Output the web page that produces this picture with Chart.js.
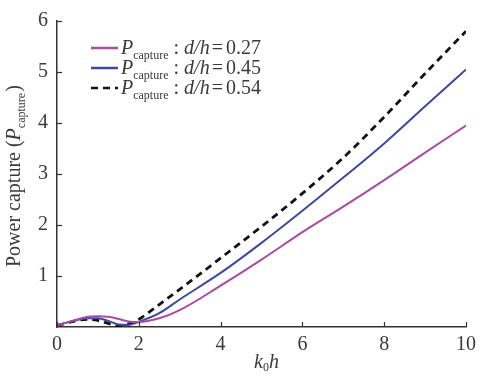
<!DOCTYPE html>
<html>
<head>
<meta charset="utf-8">
<script src="https://cdn.jsdelivr.net/npm/chart.js@4/dist/chart.umd.min.js"></script>
<style>
  html, body { margin: 0; padding: 0; background: #fff; }
  #wrap { width: 482px; height: 381px; }
</style>
</head>
<body>
<div id="wrap"><canvas id="powerChart" width="482" height="381"></canvas></div>
<script>
// k0h values
const kh = [0, 0.25, 0.5, 0.75, 1, 1.25, 1.5, 1.75, 2, 2.5, 3, 4, 5, 6, 7, 8, 9, 10];

// Power capture for each d/h
const p027 = [0.03, 0.09, 0.15, 0.20, 0.21, 0.20, 0.16, 0.11, 0.10, 0.17, 0.33, 0.81, 1.32, 1.86, 2.36, 2.88, 3.42, 3.95];
const p045 = [0.03, 0.09, 0.14, 0.17, 0.17, 0.12, 0.05, 0.04, 0.10, 0.27, 0.54, 1.06, 1.65, 2.28, 2.93, 3.60, 4.33, 5.05];
const p054 = [0.03, 0.08, 0.13, 0.15, 0.13, 0.07, 0.02, 0.06, 0.15, 0.44, 0.74, 1.35, 1.97, 2.62, 3.32, 4.12, 4.97, 5.80];

const ratios = ["0.27", "0.45", "0.54"];
const xTicks = [0, 2, 4, 6, 8, 10];
const yTicks = [1, 2, 3, 4, 5, 6];

const FONT = "'Liberation Serif', 'Times New Roman', Times, serif";
const TEXT = "#3a3a3a";
const colMag = "#ab4aa3";
const colBlue = "#3c48a3";
const colBlack = "#111111";

function toPoints(ys) {
    return kh.map((x, i) => ({ x: x, y: ys[i] }));
}

// inward ticks, axis titles and the legend (subscripts need manual drawing)
const decorPlugin = {
    id: "decor",
    afterDraw(chart) {
        const ctx = chart.ctx;
        const xs = chart.scales.x;
        const ys = chart.scales.y;
        const area = chart.chartArea;

        ctx.save();
        ctx.strokeStyle = "#333";
        ctx.lineWidth = 1.2;
        xTicks.forEach(v => {
            const px = Math.round(xs.getPixelForValue(v)) + 0.5;
            ctx.beginPath();
            ctx.moveTo(px, area.bottom);
            ctx.lineTo(px, area.bottom - 5);
            ctx.stroke();
        });
        yTicks.forEach(v => {
            const py = Math.round(ys.getPixelForValue(v)) + 0.5;
            ctx.beginPath();
            ctx.moveTo(area.left, py);
            ctx.lineTo(area.left + 5, py);
            ctx.stroke();
        });

        ctx.fillStyle = TEXT;
        ctx.textBaseline = "alphabetic";

        // x title: k0h
        let x = 254, y = 368;
        ctx.font = "italic 20px " + FONT;
        ctx.fillText("k", x, y);
        x += ctx.measureText("k").width;
        ctx.font = "12px " + FONT;
        ctx.fillText("0", x, y + 3);
        x += ctx.measureText("0").width;
        ctx.font = "italic 20px " + FONT;
        ctx.fillText("h", x, y);

        // y title, rotated
        ctx.save();
        ctx.translate(20, 267);
        ctx.rotate(-Math.PI / 2);
        let t = 0;
        ctx.font = "20px " + FONT;
        ctx.fillText("Power capture (", t, 0);
        t += ctx.measureText("Power capture (").width;
        ctx.font = "italic 20px " + FONT;
        ctx.fillText("P", t, 0);
        t += ctx.measureText("P").width;
        ctx.font = "12px " + FONT;
        ctx.fillText("capture", t, 5);
        t += ctx.measureText("capture").width;
        ctx.font = "20px " + FONT;
        ctx.fillText(")", t + 1, 0);
        ctx.restore();

        // legend
        const rows = [48, 68, 88];
        chart.data.datasets.forEach((ds, i) => {
            const ly = rows[i];
            ctx.save();
            ctx.strokeStyle = ds.borderColor;
            ctx.lineWidth = 2.5;
            ctx.setLineDash(ds.borderDash || []);
            ctx.beginPath();
            ctx.moveTo(91, ly);
            ctx.lineTo(118, ly);
            ctx.stroke();
            ctx.restore();

            let lx = 121;
            const base = ly + 6;
            ctx.font = "italic 20px " + FONT;
            ctx.fillText("P", lx, base);
            lx += ctx.measureText("P").width;
            ctx.font = "12px " + FONT;
            ctx.fillText("capture", lx, base + 5);
            lx += ctx.measureText("capture").width + 5;
            ctx.font = "20px " + FONT;
            ctx.fillText(":", lx, base);
            lx += ctx.measureText(":").width + 5;
            ctx.font = "italic 20px " + FONT;
            ctx.fillText("d/h", lx, base);
            lx += ctx.measureText("d/h").width + 2;
            ctx.font = "20px " + FONT;
            ctx.fillText("=", lx, base);
            lx += ctx.measureText("=").width + 3;
            ctx.fillText(ratios[i], lx, base);
        });
        ctx.restore();
    }
};

new Chart(document.getElementById("powerChart").getContext("2d"), {
    type: "line",
    data: {
        datasets: [
            { label: "d/h=0.27", data: toPoints(p027), borderColor: colMag, borderWidth: 2 },
            { label: "d/h=0.45", data: toPoints(p045), borderColor: colBlue, borderWidth: 2 },
            { label: "d/h=0.54", data: toPoints(p054), borderColor: colBlack, borderWidth: 2.8, borderDash: [7, 5] }
        ]
    },
    options: {
        responsive: false,
        animation: false,
        elements: {
            point: { radius: 0 },
            line: { cubicInterpolationMode: "monotone", fill: false }
        },
        layout: { padding: { top: 17, right: 10, left: 0, bottom: 0 } },
        plugins: {
            legend: { display: false },
            tooltip: { enabled: false }
        },
        scales: {
            x: {
                type: "linear",
                min: 0,
                max: 10,
                afterFit: s => { s.height = 54; },
                afterBuildTicks: s => { s.ticks = xTicks.map(v => ({ value: v })); },
                grid: { display: true, drawOnChartArea: false, drawTicks: false },
                border: { display: true, color: "#333", width: 1.5 },
                ticks: { padding: 6, color: TEXT, font: { family: FONT, size: 20 } }
            },
            y: {
                type: "linear",
                min: 0,
                max: 6,
                afterFit: s => { s.width = 57; },
                afterBuildTicks: s => { s.ticks = [0].concat(yTicks).map(v => ({ value: v })); },
                grid: { display: true, drawOnChartArea: false, drawTicks: false },
                border: { display: true, color: "#333", width: 1.5 },
                ticks: {
                    padding: 9,
                    color: TEXT,
                    font: { family: FONT, size: 20 },
                    callback: v => (v === 0 ? "" : v)
                }
            }
        }
    },
    plugins: [decorPlugin]
});
</script>
</body>
</html>
